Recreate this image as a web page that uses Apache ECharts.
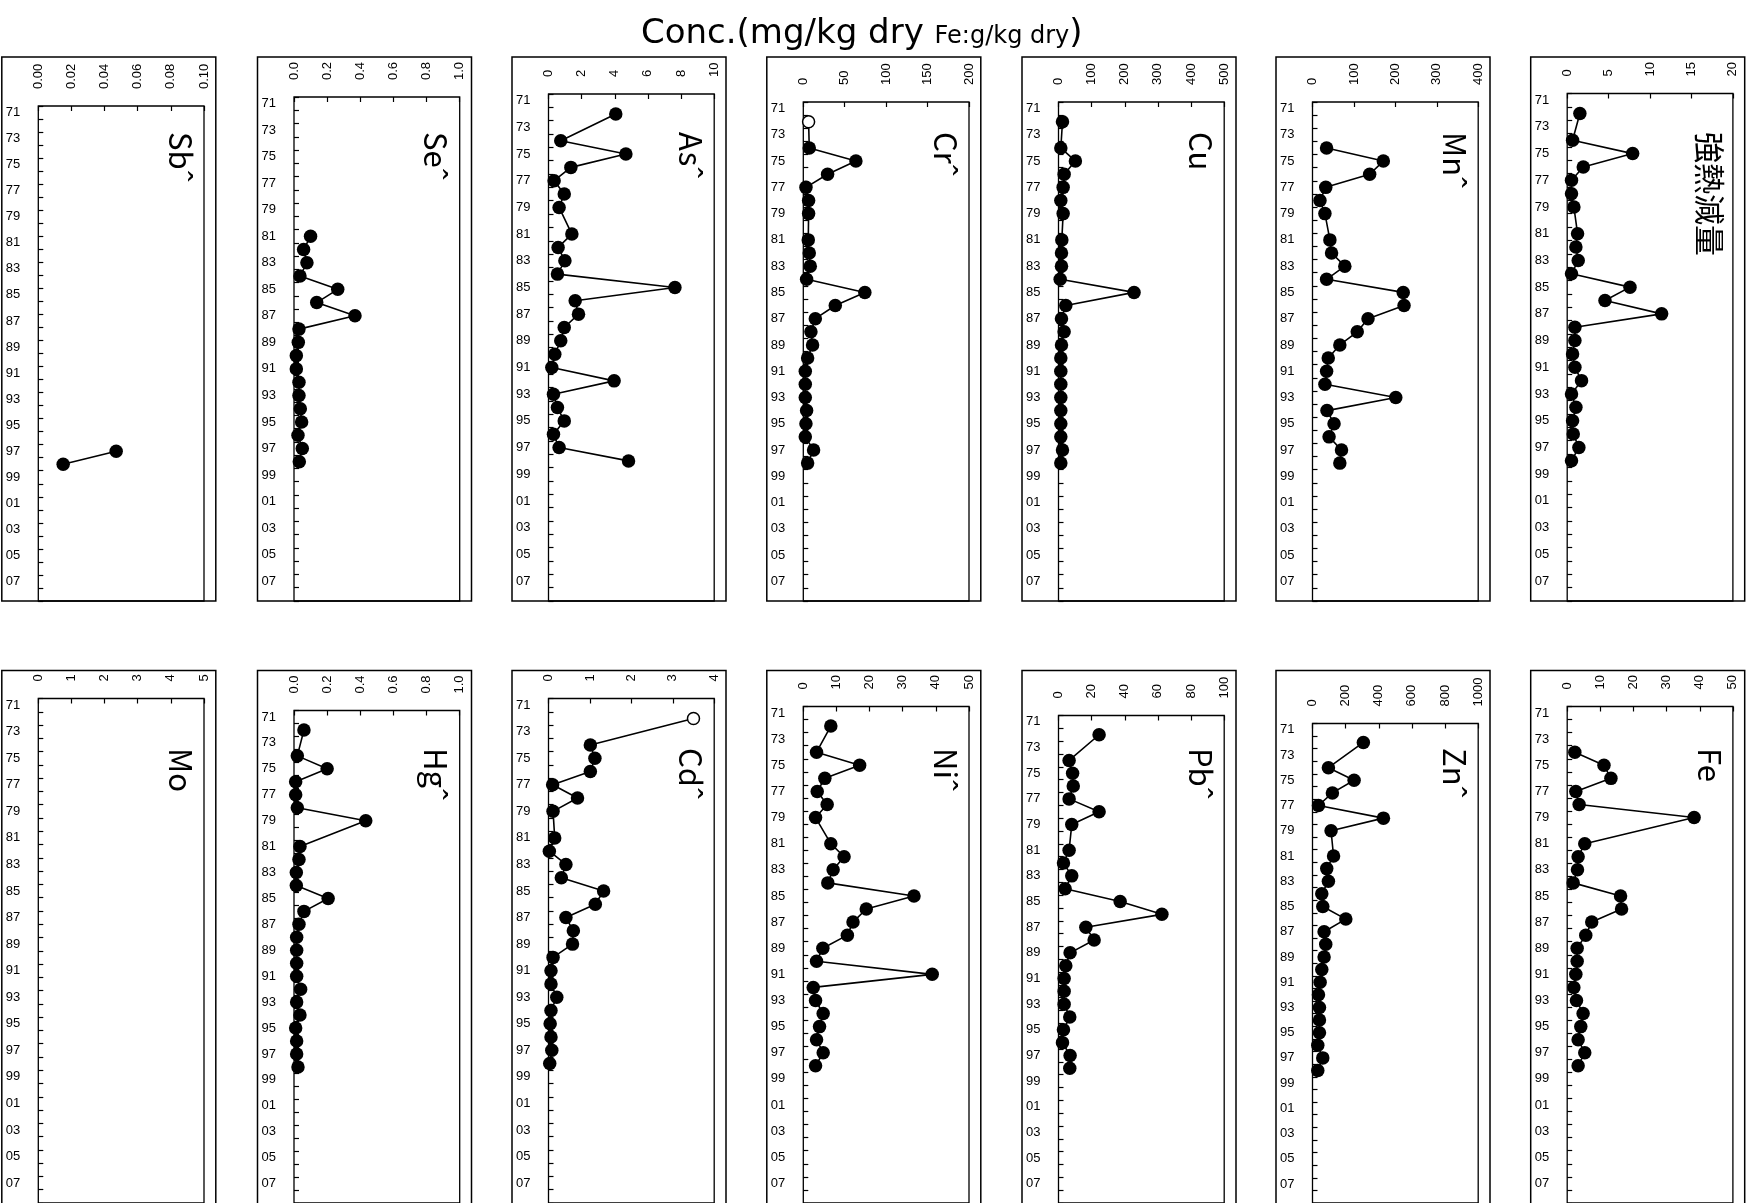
<!DOCTYPE html>
<html>
<head>
<meta charset="utf-8">
<script src="https://cdn.jsdelivr.net/npm/echarts@6/dist/echarts.min.js"></script>
<style>
  html, body { margin: 0; padding: 0; background: #fff; }
  #chart { width: 1753px; height: 1203px; }
</style>
</head>
<body>
<div id="chart"></div>
<script>
// Sampling years (category axis, 1971-2008), labels every other year
const YEARS = ['71','72','73','74','75','76','77','78','79','80',
               '81','82','83','84','85','86','87','88','89','90',
               '91','92','93','94','95','96','97','98','99','00',
               '01','02','03','04','05','06','07','08'];

// Years with measurements (1971-1998); null = not measured
const DATA_YEARS = ['71','72','73','74','75','76','77','78','79','80',
                    '81','82','83','84','85','86','87','88','89','90',
                    '91','92','93','94','95','96','97','98'];

// Concentrations (mg/kg dry; Fe in g/kg dry; ignition loss in %)
const sb = [null,null,null,null,null,null,null,null,null,null,
            null,null,null,null,null,null,null,null,null,null,
            null,null,null,null,null,null,0.047,0.015];
const se = [null,null,null,null,null,null,null,null,null,null,
            0.10,0.058,0.078,0.036,0.264,0.137,0.368,0.030,0.026,0.014,
            0.014,0.030,0.030,0.038,0.046,0.024,0.050,0.032];
const as = [null,4.06,null,0.74,4.67,1.35,0.34,0.95,0.64,null,
            1.41,0.58,0.99,0.54,7.63,1.61,1.81,0.95,0.74,0.38,
            0.20,3.96,0.30,0.54,0.95,0.30,0.64,4.83];
const cr = [null,6.4,null,7.2,63.5,29.3,3.2,6.4,6.4,null,
            6.0,7.2,8.4,4.0,74.3,38.6,14.5,9.2,11.2,5.2,
            2.4,2.4,2.4,4.0,3.2,2.4,12.4,5.2];
const cu = [null,12,null,7,51,17,14,7,14,null,
            10,9,9,5,228,22,9,17,9,7,
            7,7,7,7,7,7,12,7];
const mn = [null,null,null,34,171,138,32,18,30,null,
            42,46,78,34,219,221,134,108,66,38,
            34,30,201,35,52,40,70,66];
const ignitionLoss = [null,1.53,null,0.65,7.9,1.94,0.52,0.52,0.81,null,
            1.25,1.05,1.33,0.52,7.58,4.56,11.4,0.93,0.93,0.65,
            0.93,1.73,0.52,1.05,0.65,0.73,1.41,0.52];
const mo = [null,null,null,null,null,null,null,null,null,null,
            null,null,null,null,null,null,null,null,null,null,
            null,null,null,null,null,null,null,null];
const hg = [null,0.060,null,0.020,0.200,0.010,0.010,0.020,0.433,null,
            0.036,0.030,0.014,0.014,0.206,0.060,0.030,0.016,0.016,0.016,
            0.016,0.040,0.016,0.036,0.010,0.016,0.016,0.024];
const cd = [null,3.50,null,1.01,1.12,1.01,0.10,0.70,0.11,null,
            0.15,0.02,0.42,0.31,1.33,1.13,0.42,0.60,0.58,0.11,
            0.06,0.06,0.20,0.06,0.04,0.06,0.08,0.03];
const ni = [null,8.3,null,4.0,17.0,6.5,4.2,7.2,3.7,null,
            8.3,12.3,9.0,7.4,33.4,19.0,15.0,13.3,5.9,4.0,
            38.9,3.0,3.7,6.0,4.9,4.0,6.0,3.7];
const pb = [null,24.5,null,6.4,8.5,8.9,6.4,24.5,8.0,null,
            6.4,3.0,8.0,4.0,37.2,62.4,16.5,21.5,7.0,4.4,
            3.4,3.4,3.4,6.8,3.0,2.4,7.0,6.8];
const zn = [null,307,null,96,251,120,36,428,112,null,
            127,86,96,56,62,201,70,80,70,56,
            46,36,42,42,42,32,62,32];
const fe = [null,null,null,2.3,11.1,13.2,2.6,3.6,38.3,null,
            5.3,3.3,3.1,1.8,16.1,16.4,7.4,5.6,3.0,3.0,
            2.6,2.0,2.8,4.8,4.1,3.3,5.3,3.3];

// Years drawn as open circles (below detection limit)
const crOpenYears = ['72'];
const cdOpenYears = ['72'];

// Panels: value-axis max, tick step and label decimals
const panels = [
  { name: 'Sbˆ',     values: sb, max: 0.10, step: 0.02, dec: 2, row: 0, col: 0, top: 106 },
  { name: 'Seˆ',     values: se, max: 1.0,  step: 0.2,  dec: 1, row: 0, col: 1, top: 97 },
  { name: 'Asˆ',     values: as, max: 10,   step: 2,    dec: 0, row: 0, col: 2, top: 94 },
  { name: 'Crˆ',     values: cr, max: 200,  step: 50,   dec: 0, row: 0, col: 3, top: 102, open: crOpenYears },
  { name: 'Cu',      values: cu, max: 500,  step: 100,  dec: 0, row: 0, col: 4, top: 102 },
  { name: 'Mnˆ',     values: mn, max: 400,  step: 100,  dec: 0, row: 0, col: 5, top: 102 },
  { name: '強熱減量', values: ignitionLoss, max: 20, step: 5, dec: 0, row: 0, col: 6, top: 93.5 },
  { name: 'Mo',      values: mo, max: 5,    step: 1,    dec: 0, row: 1, col: 0, top: 698.5 },
  { name: 'Hgˆ',     values: hg, max: 1.0,  step: 0.2,  dec: 1, row: 1, col: 1, top: 710.5 },
  { name: 'Cdˆ',     values: cd, max: 4,    step: 1,    dec: 0, row: 1, col: 2, top: 698.5, open: cdOpenYears },
  { name: 'Niˆ',     values: ni, max: 50,   step: 10,   dec: 0, row: 1, col: 3, top: 706.5 },
  { name: 'Pbˆ',     values: pb, max: 100,  step: 20,   dec: 0, row: 1, col: 4, top: 715.5 },
  { name: 'Znˆ',     values: zn, max: 1000, step: 200,  dec: 0, row: 1, col: 5, top: 723.5 },
  { name: 'Fe',      values: fe, max: 50,   step: 10,   dec: 0, row: 1, col: 6, top: 706.5 }
];

// Layout
const PLOT_LEFT = [38.3, 294, 548.5, 803.3, 1058.5, 1312.5, 1567.2];
const PLOT_W = 165.7;
const ROW_BOTTOM = [601, 1205];
const FRAME_TOP = [57, 670.5];
const FRAME_H = [544, 560];
const TITLE_Y = [132, 748];
const NUM_FONT = '"Liberation Sans", Arial, sans-serif';
const JP_FONT = '"Noto Sans CJK JP", "Noto Sans", sans-serif';
const TITLE_FONT = '"DejaVu Sans", sans-serif';

const chart = echarts.init(document.getElementById('chart'), null, { renderer: 'canvas' });

const grid = [], xAxis = [], yAxis = [], series = [], graphic = [];

panels.forEach((p, i) => {
  const left = PLOT_LEFT[p.col];
  const bottom = ROW_BOTTOM[p.row];

  grid.push({
    left: left, top: p.top, width: PLOT_W, height: bottom - p.top,
    show: true, borderColor: '#000', borderWidth: 1.3, backgroundColor: 'transparent'
  });

  xAxis.push({
    gridIndex: i, type: 'value', position: 'top',
    min: 0, max: p.max, interval: p.step,
    axisLine: { show: false },
    splitLine: { show: false },
    axisTick: { show: true, inside: true, length: 5, lineStyle: { color: '#000', width: 1.2 } },
    axisLabel: {
      rotate: -90, margin: 17, fontSize: 13, fontFamily: NUM_FONT, color: '#000',
      showMinLabel: true, showMaxLabel: true,
      formatter: v => Number(v).toFixed(p.dec)
    }
  });

  yAxis.push({
    gridIndex: i, type: 'category', data: YEARS, inverse: true, boundaryGap: true,
    axisLine: { show: false },
    splitLine: { show: false },
    axisTick: { show: true, inside: true, interval: 0, length: 5, lineStyle: { color: '#000', width: 1.2 } },
    axisLabel: { interval: 1, margin: 18, fontSize: 13, fontFamily: NUM_FONT, color: '#000' }
  });

  const openYears = p.open || [];
  const points = [];
  p.values.forEach((v, k) => {
    if (v === null) return;
    const yr = DATA_YEARS[k];
    if (openYears.indexOf(yr) >= 0) {
      points.push({ value: [v, yr], symbolSize: 12,
        itemStyle: { color: '#fff', borderColor: '#000', borderWidth: 1.5 } });
    } else {
      points.push([v, yr]);
    }
  });

  series.push({
    type: 'line', xAxisIndex: i, yAxisIndex: i, data: points,
    symbol: 'circle', symbolSize: 13.5, showAllSymbol: true,
    lineStyle: { color: '#000', width: 1.6 },
    itemStyle: { color: '#000', borderWidth: 0 },
    emphasis: { disabled: true },
    animation: false, z: 3
  });

  // outer frame of the panel
  graphic.push({
    type: 'rect', silent: true, z: 1,
    shape: { x: left - 36.5, y: FRAME_TOP[p.row], width: 214, height: FRAME_H[p.row] },
    style: { fill: 'none', stroke: '#000', lineWidth: 1.5 }
  });

  // element name, rotated to read downward
  graphic.push({
    type: 'text', silent: true, z: 5,
    x: left + PLOT_W - 8, y: TITLE_Y[p.row], rotation: -Math.PI / 2,
    style: {
      text: p.name, font: '31px ' + JP_FONT, fill: '#000',
      align: 'left', verticalAlign: 'top', textAlign: 'left', textVerticalAlign: 'top'
    }
  });
});

chart.setOption({
  backgroundColor: '#fff',
  animation: false,
  title: {
    text: '{a|Conc.(mg/kg dry }{b|Fe:g/kg dry}{a|)}',
    left: 636, top: 12,
    textStyle: {
      fontWeight: 'normal',
      rich: {
        a: { fontSize: 34, fontFamily: TITLE_FONT, fontWeight: 'normal', color: '#000', verticalAlign: 'bottom' },
        b: { fontSize: 24, fontFamily: TITLE_FONT, fontWeight: 'normal', color: '#000', verticalAlign: 'bottom', padding: [0, 0, 2, 0] }
      }
    }
  },
  grid: grid,
  xAxis: xAxis,
  yAxis: yAxis,
  series: series,
  graphic: graphic
});
</script>
</body>
</html>
